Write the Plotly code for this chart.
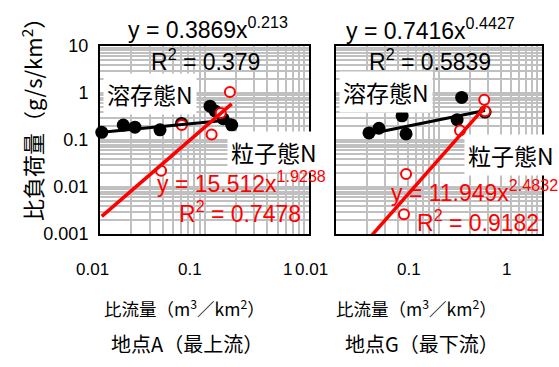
import numpy as np
import plotly.graph_objects as go

# Station A (most upstream): specific discharge vs specific load
a_flow_dis = [0.0104, 0.0167, 0.0216, 0.0375, 0.0603, 0.113, 0.126, 0.151, 0.182]
a_load_dis = [0.146, 0.208, 0.187, 0.165, 0.225, 0.525, 0.416, 0.283, 0.208]
a_flow_par = [0.175, 0.143, 0.117, 0.0606, 0.0384]
a_load_par = [1.05, 0.374, 0.131, 0.208, 0.0222]

# Station G (most downstream)
g_flow_dis = [0.0209, 0.0261, 0.0438, 0.0479, 0.166, 0.150, 0.280]
g_load_dis = [0.1416, 0.178, 0.326, 0.135, 0.804, 0.270, 0.392]
g_flow_par = [0.275, 0.280, 0.160, 0.0479, 0.0457]
g_load_par = [0.714, 0.410, 0.160, 0.0190, 0.00264]

# Power-law fits  y = a * x^b  (a, b, R^2)
a_fit_dis = (0.3869, 0.213, 0.379)
a_fit_par = (15.512, 1.9238, 0.7478)
g_fit_dis = (0.7416, 0.4427, 0.5839)
g_fit_par = (11.949, 2.4832, 0.9182)

x_ticks = [0.01, 0.1, 1]
x_tick_text = ["0.01", "0.1", "1"]
y_ticks = [0.001, 0.01, 0.1, 1, 10]
y_tick_text = ["0.001", "0.01", "0.1", "1", "10"]

W, H = 559, 367
LAT = "Liberation Sans, Arial, Noto Sans CJK JP"
JP = "Noto Sans CJK JP, Liberation Sans"
RED = "#ff0000"
GRID = "#c0c0c0"


def px(xp):
    return xp / W


def py(yp):
    return 1 - yp / H


def trend(fit, flows):
    a, b, _ = fit
    xs = np.array([min(flows), max(flows)])
    return xs, a * xs ** b


fig = go.Figure()

panels = [
    ("x", "y", a_flow_dis, a_load_dis, a_flow_par, a_load_par, a_fit_dis, a_fit_par),
    ("x2", "y2", g_flow_dis, g_load_dis, g_flow_par, g_load_par, g_fit_dis, g_fit_par),
]
for xa, ya, fd, ld, fp, lp, fit_d, fit_p in panels:
    fig.add_trace(go.Scatter(x=fd, y=ld, mode="markers", xaxis=xa, yaxis=ya,
                             marker=dict(color="black", size=13), cliponaxis=False))
    fig.add_trace(go.Scatter(x=fp, y=lp, mode="markers", xaxis=xa, yaxis=ya,
                             marker=dict(color="white", size=10,
                                         line=dict(color=RED, width=2)),
                             cliponaxis=False))
    tx, ty = trend(fit_d, fd)
    fig.add_trace(go.Scatter(x=tx, y=ty, mode="lines", xaxis=xa, yaxis=ya,
                             line=dict(color="black", width=3)))
    tx, ty = trend(fit_p, fd)
    fig.add_trace(go.Scatter(x=tx, y=ty, mode="lines", xaxis=xa, yaxis=ya,
                             line=dict(color=RED, width=3.5)))

axis_common = dict(type="log", showline=True, mirror=True, linecolor="black",
                   linewidth=2, ticks="", zeroline=False,
                   showgrid=True, gridcolor=GRID, gridwidth=2,
                   minor=dict(dtick="D1", showgrid=True, gridcolor=GRID,
                              gridwidth=2, ticks=""))

y_dom = [py(237), py(38)]
fig.update_layout(
    width=W, height=H, margin=dict(l=0, r=0, t=0, b=0),
    paper_bgcolor="white", plot_bgcolor="white", showlegend=False,
    xaxis=dict(domain=[px(100), px(309)], range=[-2, 0], showticklabels=False,
               tickvals=x_ticks, anchor="y", **axis_common),
    xaxis2=dict(domain=[px(336), px(542)], range=[-2, 0], showticklabels=False,
                tickvals=x_ticks, anchor="y2", **axis_common),
    yaxis=dict(domain=y_dom, range=[-3, 1], tickvals=y_ticks, ticktext=y_tick_text,
               tickfont=dict(family=LAT, size=18, color="black"),
               ticklabelstandoff=6, anchor="x", **axis_common),
    yaxis2=dict(domain=y_dom, range=[-3, 1], tickvals=y_ticks, showticklabels=False,
                anchor="x2", **axis_common),
)

ann = []
# x tick labels, set slightly left of their ticks
for xr, shifts in (("x", [-8, -15, -22]), ("x2", [-25, -30, -36])):
    for v, t, s in zip(x_ticks, x_tick_text, shifts):
        ann.append(dict(x=np.log10(v), xref=xr, y=py(274), yref="paper", text=t,
                        xanchor="center", yanchor="middle",
                        showarrow=False, xshift=s, font=dict(family=LAT, size=17, color="black")))


def label(x, y, text, color="black", size=23, bg=None, family=LAT):
    d = dict(x=px(x), y=py(y), xref="paper", yref="paper", text=text, showarrow=False,
             xanchor="left", yanchor="middle", font=dict(family=family, size=size, color=color),
             borderpad=0)
    if bg:
        d.update(bgcolor=bg, borderpad=3)
    ann.append(d)


def centered(x, y, text, size, angle=0):
    ann.append(dict(x=px(x), y=py(y), xref="paper", yref="paper", text=text, showarrow=False,
                    xanchor="center", yanchor="middle", textangle=angle,
                    font=dict(family=JP, size=size, color="#000000")))


def eq(fit):
    return f"y = {fit[0]}x<sup>{fit[1]}</sup>"


def r2(fit):
    return f"R<sup>2</sup> = {fit[2]}"


label(127, 19, eq(a_fit_dis))
label(150, 53, r2(a_fit_dis))
label(103, 89, "溶存態N", bg="white", family=JP)
label(227, 150, "粒子態N", bg="white", family=JP)
label(156, 182, eq(a_fit_par), color=RED)
label(178, 214, r2(a_fit_par), color=RED)

label(345, 20, eq(g_fit_dis))
label(368, 53, r2(g_fit_dis))
label(339, 87, "溶存態N", bg="white", family=JP)
label(464, 153, "粒子態N", bg="white", family=JP)
label(390, 191, eq(g_fit_par), color=RED)
label(416, 223, r2(g_fit_par), color=RED)

# axis titles and station names
xtitle = "比流量（m<sup>3</sup>／km<sup>2</sup>）"
centered(184, 315, xtitle, 17.5)
centered(416, 315, xtitle, 17.5)
centered(187, 353, "地点A（最上流）", 20)
centered(422, 353, "地点G（最下流）", 20)
centered(31, 110, "比負荷量（g/s/km<sup>2</sup>）", 22, angle=-90)

fig.update_layout(annotations=ann)
fig.write_html("out.html")
